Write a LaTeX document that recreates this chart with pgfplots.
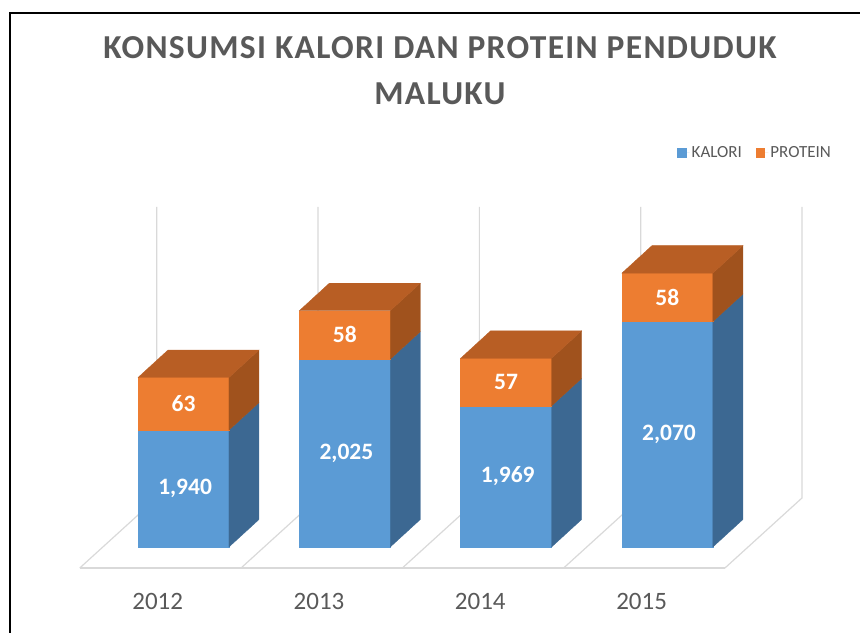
\documentclass[border=0pt]{standalone}
\usepackage{fontspec}
\setmainfont{Carlito}
\newfontfamily\titlefont[LetterSpace=4]{Carlito}
\usepackage{pgfplots}
\usepackage{pgfplotstable}
\pgfplotsset{compat=1.18}
\definecolor{kal}{HTML}{5B9BD5}
\definecolor{kalside}{HTML}{3C6892}
\definecolor{pro}{HTML}{ED7D31}
\definecolor{proside}{HTML}{A0521D}
\definecolor{protop}{HTML}{B85E24}
\definecolor{txt}{HTML}{595959}
\definecolor{gridc}{HTML}{D9D9D9}

\pgfplotstableread{
year kal pro
2012 1940 63
2013 2025 58
2014 1969 57
2015 2070 58
}\data

\begin{document}
\begin{tikzpicture}
\useasboundingbox (0,0) rectangle (860bp,633bp);
\begin{axis}[
  at={(0,0)}, anchor=south west,
  scale only axis, width=860bp, height=633bp,
  xmin=-1.13763, xmax=4.19405, ymin=1697.006, ymax=2455.090,
  axis lines=none, xtick=\empty, ytick=\empty,
  clip=false, no markers,
  title={KONSUMSI KALORI DAN PROTEIN PENDUDUK\\MALUKU},
  title style={at={(rel axis cs:0.5116,0.9336)}, anchor=north, inner sep=0pt, align=center,
    font=\titlefont\bfseries\fontsize{33.5bp}{46bp}\selectfont, text=txt},
  legend columns=2,
  legend style={draw=none, fill=none, at={(rel axis cs:0.7872,0.7583)}, anchor=west, inner sep=0pt,
    font=\fontsize{17bp}{20bp}\selectfont, text=txt,
    /tikz/every even column/.append style={column sep=12bp}},
  legend image code/.code={\fill[#1] (0bp,-4.7bp) rectangle (9.5bp,4.7bp); \path (0bp,0bp) -- (12.5bp,0bp);},
  /pgf/number format/assume math mode=true,
]
% floor and back-wall lines
\addplot[forget plot, draw=gridc, line width=1.2bp] coordinates {(-0.6432,1774.85) (3.3568,1774.85)};
\addplot[forget plot, draw=gridc, line width=1.2bp] coordinates {(-0.6432,1774.85) (-0.1658,1858.68) (-0.1658,2207.2)};
\addplot[forget plot, draw=gridc, line width=1.2bp] coordinates {(0.3568,1774.85) (0.8342,1858.68) (0.8342,2207.2)};
\addplot[forget plot, draw=gridc, line width=1.2bp] coordinates {(1.3568,1774.85) (1.8342,1858.68) (1.8342,2207.2)};
\addplot[forget plot, draw=gridc, line width=1.2bp] coordinates {(2.3568,1774.85) (2.8342,1858.68) (2.8342,2207.2)};
\addplot[forget plot, draw=gridc, line width=1.2bp] coordinates {(3.3568,1774.85) (3.8342,1858.68) (3.8342,2207.2)};

\pgfplotsinvokeforeach{0,1,2,3}{
  \pgfplotstablegetelem{#1}{kal}\of\data \pgfmathsetmacro\K{\pgfplotsretval}
  \pgfplotstablegetelem{#1}{pro}\of\data \pgfmathsetmacro\T{\K+\pgfplotsretval}
  \pgfmathsetmacro\xl{#1-0.282}
  \pgfmathsetmacro\xr{#1+0.282}
  \pgfmathsetmacro\xlb{#1-0.282+0.186}
  \pgfmathsetmacro\xrb{#1+0.282+0.186}
  \pgfmathsetmacro\Kb{\K+32.9}
  \pgfmathsetmacro\Tb{\T+32.9}
  \addplot[forget plot, fill=kal, draw=kal, line width=0.3bp] coordinates {(\xl,1800) (\xr,1800) (\xr,\K) (\xl,\K)} --cycle;
  \addplot[forget plot, fill=kalside, draw=kalside, line width=0.3bp] coordinates {(\xr,1800) (\xrb,1832.9) (\xrb,\Kb) (\xr,\K)} --cycle;
  \addplot[forget plot, fill=pro, draw=pro, line width=0.3bp] coordinates {(\xl,\K) (\xr,\K) (\xr,\T) (\xl,\T)} --cycle;
  \addplot[forget plot, fill=proside, draw=proside, line width=0.3bp] coordinates {(\xr,\K) (\xrb,\Kb) (\xrb,\Tb) (\xr,\T)} --cycle;
  \addplot[forget plot, fill=protop, draw=protop, line width=0.3bp] coordinates {(\xl,\T) (\xr,\T) (\xrb,\Tb) (\xlb,\Tb)} --cycle;
}

% data labels
\addplot[forget plot, draw=none, nodes near coords, point meta=explicit,
  every node near coord/.style={anchor=center, text=white, font=\bfseries\fontsize{23.5bp}{26bp}\selectfont}]
  table[x expr=\coordindex+0.01, y expr={(1800+\thisrow{kal})/2}, meta=kal] {\data};
\addplot[forget plot, draw=none, nodes near coords, point meta=explicit,
  every node near coord/.style={anchor=center, text=white, font=\bfseries\fontsize{23.5bp}{26bp}\selectfont}]
  table[x expr=\coordindex, y expr={\thisrow{kal}+\thisrow{pro}/2}, meta=pro] {\data};
% category labels
\addplot[forget plot, draw=none, nodes near coords, point meta=explicit symbolic,
  every node near coord/.style={anchor=center, text=txt, font=\fontsize{25bp}{30bp}\selectfont}]
  table[x expr=\coordindex-0.16, y expr=1734.7, meta=year] {\data};

\addlegendimage{fill=kal, draw=none}
\addlegendentry{KALORI}
\addlegendimage{fill=pro, draw=none}
\addlegendentry{PROTEIN}
\end{axis}
\draw[line width=1.8bp] (10bp,0) -- (10bp,620bp) -- (860bp,620bp);
\end{tikzpicture}
\end{document}
